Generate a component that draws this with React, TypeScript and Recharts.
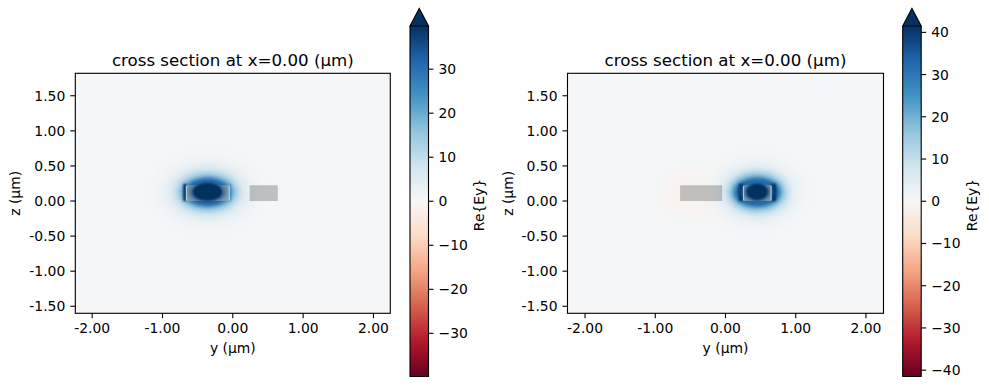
import React from "react"
import { ScatterChart, Scatter, XAxis, YAxis, ReferenceArea } from "recharts"

// axis ticks / ranges (µm)
const yTicks = [-2, -1, 0, 1, 2]
const zTicks = [-1.5, -1, -0.5, 0, 0.5, 1, 1.5]
const leftDomainY = [-2.24, 2.24]
const rightDomainY = [-2.25, 2.25]
const domainZ = [-1.6, 1.82]

// colorbars
const leftCbarTicks = [-30, -20, -10, 0, 10, 20, 30]
const rightCbarTicks = [-40, -30, -20, -10, 0, 10, 20, 30, 40]
const leftVmax = 39.8
const rightVmax = 41.5

// Re{Ey} iso-levels of the mode and their half extents (µm)
const modeLevels = [1.5, 4, 9, 16, 26, 36]
const leftHalfY = [0.8, 0.62, 0.5, 0.42, 0.35, 0.29]
const leftHalfZ = [0.55, 0.42, 0.33, 0.27, 0.21, 0.17]
const rightHalfY = [0.72, 0.56, 0.47, 0.41, 0.35, 0.3]
const rightHalfZ = [0.55, 0.42, 0.33, 0.28, 0.22, 0.18]
const leftCenter = { y: -0.36, z: 0.125 }
const rightCenter = { y: 0.45, z: 0.125 }

// saturated core inside the guide: [value, half y, half z]
const leftCore = [60, 0.21, 0.13]
const rightCore = [60, 0.155, 0.12]
const coreZ = 0.13
const guideFieldValue = 14

// waveguides (y ranges, µm) and their height in z
const leftGuides = [[-0.66, -0.05], [0.24, 0.64]]
const rightGuides = [[-0.647, -0.047], [0.257, 0.65]]
const guideZ = [0, 0.225]

// strong field just outside the side walls of the guiding waveguide
const leftBands = [{ y1: -0.705, y2: -0.655, v: 40 }, { y1: -0.055, y2: -0.025, v: 24 }]
const rightBands = [{ y1: 0.19, y2: 0.257, v: 45 }, { y1: 0.65, y2: 0.72, v: 45 }]

// faint negative lobe around the other guide (right plot)
const rightLobe = { y: -0.45, z: 0.11, hy: 0.45, hz: 0.32, v: -1.3 }

const rdbuStops = ["#67001f", "#b2182b", "#d6604d", "#f4a582", "#fddbc7", "#f7f7f7", "#d1e5f0", "#92c5de", "#4393c3", "#2166ac", "#053061"]
const blurSizes = [7, 5.5, 4, 3, 2.5, 2]

const FONT = "DejaVu Sans, sans-serif"
const tickStyle = { fill: "#000", fontSize: 13.9, fontFamily: FONT }

function hexRgb(h: string) {
  const n = parseInt(h.slice(1), 16)
  return [(n >> 16) & 255, (n >> 8) & 255, n & 255]
}

function rdbu(v: number, vmax: number) {
  const t = Math.max(0, Math.min(1, (v / vmax + 1) / 2)) * (rdbuStops.length - 1)
  const i = Math.min(Math.floor(t), rdbuStops.length - 2)
  const f = t - i
  const a = hexRgb(rdbuStops[i])
  const b = hexRgb(rdbuStops[i + 1])
  const c = a.map((x, k) => Math.round(x + (b[k] - x) * f))
  return `rgb(${c[0]},${c[1]},${c[2]})`
}

function norm(p: any) {
  const w = Math.abs(p.width)
  const h = Math.abs(p.height)
  return { x: Math.min(p.x, p.x + p.width), y: Math.min(p.y, p.y + p.height), w, h }
}

const ellipse = (fill: string, filter?: string) => (p: any) => {
  const r = norm(p)
  return (
    <ellipse cx={r.x + r.w / 2} cy={r.y + r.h / 2} rx={r.w / 2} ry={r.h / 2} fill={fill}
      filter={filter ? `url(#${filter})` : undefined} />
  )
}

const box = (fill: string, opacity = 1, filter?: string) => (p: any) => {
  const r = norm(p)
  return <rect x={r.x} y={r.y} width={r.w} height={r.h} fill={fill} fillOpacity={opacity}
    filter={filter ? `url(#${filter})` : undefined} />
}

const frame = (p: any) => {
  const r = norm(p)
  return <rect x={r.x} y={r.y} width={r.w} height={r.h} fill="none" stroke="#000" strokeWidth={1.1} />
}

const fmt2 = (v: number) => v.toFixed(2)
const fmtMinus = (v: number) => (v < 0 ? "\u2212" + Math.abs(v) : String(v))

function FieldPanel(props: any) {
  const { domainY, vmax, center, halfY, halfZ, core, guides, modeGuide, bands, lobe, margin } = props
  const g = guides[modeGuide]
  return (
    <ScatterChart width={400} height={389} margin={margin}>
      <XAxis type="number" dataKey="y" domain={domainY} ticks={yTicks} allowDataOverflow height={40}
        tickFormatter={fmt2} axisLine={false} tickSize={5} tickMargin={5}
        tickLine={{ stroke: "#000", strokeWidth: 1.1 }} tick={tickStyle} />
      <YAxis type="number" dataKey="z" domain={domainZ} ticks={zTicks} allowDataOverflow width={60}
        tickFormatter={fmt2} axisLine={false} tickSize={5} tickMargin={5}
        tickLine={{ stroke: "#000", strokeWidth: 1.1 }} tick={tickStyle} />
      <ReferenceArea shape={box("#f5f6f7")} />
      {lobe && (
        <ReferenceArea x1={lobe.y - lobe.hy} x2={lobe.y + lobe.hy} y1={lobe.z - lobe.hz} y2={lobe.z + lobe.hz}
          shape={ellipse(rdbu(lobe.v, vmax), "blur0")} />
      )}
      {modeLevels.map((v, i) => (
        <ReferenceArea key={`lvl-${i}`} x1={center.y - halfY[i]} x2={center.y + halfY[i]}
          y1={center.z - halfZ[i]} y2={center.z + halfZ[i]} shape={ellipse(rdbu(v, vmax), `blur${i}`)} />
      ))}
      {bands.map((b: any, i: number) => (
        <ReferenceArea key={`band-${i}`} x1={b.y1} x2={b.y2} y1={guideZ[0]} y2={guideZ[1] + 0.02}
          shape={box(rdbu(b.v, vmax), 1, "blurBand")} />
      ))}
      {/* inside the guiding waveguide */}
      <ReferenceArea x1={g[0]} x2={g[1]} y1={guideZ[0]} y2={guideZ[1]} shape={box(rdbu(guideFieldValue, vmax))} />
      <ReferenceArea x1={center.y - core[1] - 0.06} x2={center.y + core[1] + 0.06} y1={coreZ - core[2] - 0.03}
        y2={coreZ + core[2] + 0.03} shape={ellipse(rdbu(30, vmax), "blurRing")} />
      {guides.map((w: number[], i: number) => (
        <ReferenceArea key={`wg-${i}`} x1={w[0]} x2={w[1]} y1={guideZ[0]} y2={guideZ[1]} shape={box("#5c5c5c", 0.35)} />
      ))}
      <ReferenceArea x1={center.y - core[1]} x2={center.y + core[1]} y1={coreZ - core[2]} y2={coreZ + core[2]}
        shape={ellipse(rdbu(core[0], vmax), "blurCore")} />
      {g.map((wall: number, i: number) => (
        <ReferenceArea key={`wall-${i}`} x1={wall - 0.008} x2={wall + 0.008} y1={guideZ[0] + 0.01} y2={guideZ[1] - 0.01}
          shape={box("#dfe2e4", 0.75)} />
      ))}
      <ReferenceArea shape={frame} />
      <Scatter data={[center]} shape={() => <g />} isAnimationActive={false} />
    </ScatterChart>
  )
}

function Colorbar(props: any) {
  const { vmax, ticks, margin } = props
  const top = vmax * 1.1
  const bar = (p: any) => {
    const r = norm(p)
    return (
      <g>
        <rect x={r.x} y={r.y} width={r.w} height={r.h} fill="url(#rdbuBar)" />
        <path d={`M${r.x},${r.y} L${r.x},${r.y + r.h} L${r.x + r.w},${r.y + r.h} L${r.x + r.w},${r.y}`}
          fill="none" stroke="#000" strokeWidth={1.1} />
      </g>
    )
  }
  const arrow = (p: any) => {
    const r = norm(p)
    return (
      <polygon points={`${r.x},${r.y + r.h} ${r.x + r.w / 2},${r.y} ${r.x + r.w},${r.y + r.h}`}
        fill="#053061" stroke="#000" strokeWidth={1.1} strokeLinejoin="miter" />
    )
  }
  return (
    <ScatterChart width={90} height={389} margin={margin}>
      <XAxis type="number" dataKey="a" domain={[0, 1]} hide />
      <YAxis type="number" dataKey="v" orientation="right" domain={[-vmax, top]} ticks={ticks} allowDataOverflow
        width={50} axisLine={false} tickSize={5} tickMargin={5} tickFormatter={fmtMinus}
        tickLine={{ stroke: "#000", strokeWidth: 1.1 }} tick={tickStyle} />
      <ReferenceArea y1={-vmax} y2={vmax} shape={bar} />
      <ReferenceArea y1={vmax} y2={top} shape={arrow} />
      <Scatter data={[{ a: 0.5, v: 0 }]} shape={() => <g />} isAnimationActive={false} />
    </ScatterChart>
  )
}

const title = "cross section at x=0.00 (\u03bcm)"

export default function App() {
  return (
    <div style={{ position: "absolute", left: 0, top: 0, width: 989, height: 389, overflow: "hidden", background: "#fff" }}>
      <svg width={0} height={0} style={{ position: "absolute" }}>
        <defs>
          {blurSizes.map((s, i) => (
            <filter key={i} id={`blur${i}`} x="-60%" y="-60%" width="220%" height="220%">
              <feGaussianBlur stdDeviation={s} />
            </filter>
          ))}
          <filter id="blurRing" x="-40%" y="-40%" width="180%" height="180%">
            <feGaussianBlur stdDeviation={2.5} />
          </filter>
          <filter id="blurCore" x="-40%" y="-40%" width="180%" height="180%">
            <feGaussianBlur stdDeviation={1.1} />
          </filter>
          <filter id="blurBand" x="-100%" y="-40%" width="300%" height="180%">
            <feGaussianBlur stdDeviation={1} />
          </filter>
          <linearGradient id="rdbuBar" x1="0" y1="1" x2="0" y2="0">
            {rdbuStops.map((c, i) => (
              <stop key={i} offset={i / (rdbuStops.length - 1)} stopColor={c} />
            ))}
          </linearGradient>
        </defs>
      </svg>

      <div style={{ position: "absolute", left: 0, top: 0 }}>
        <FieldPanel domainY={leftDomainY} vmax={leftVmax} center={leftCenter} halfY={leftHalfY} halfZ={leftHalfZ}
          core={leftCore} guides={leftGuides} modeGuide={0} bands={leftBands}
          margin={{ top: 73.3, bottom: 35.7, left: 15.3, right: 9.7 }} />
      </div>
      <div style={{ position: "absolute", left: 400, top: 0 }}>
        <Colorbar vmax={leftVmax} ticks={leftCbarTicks} margin={{ top: 8.5, bottom: 12.5, left: 10, right: 11.5 }} />
      </div>
      <div style={{ position: "absolute", left: 490, top: 0 }}>
        <FieldPanel domainY={rightDomainY} vmax={rightVmax} center={rightCenter} halfY={rightHalfY} halfZ={rightHalfZ}
          core={rightCore} guides={rightGuides} modeGuide={1} bands={rightBands} lobe={rightLobe}
          margin={{ top: 73.3, bottom: 35.7, left: 17.5, right: 6.5 }} />
      </div>
      <div style={{ position: "absolute", left: 892, top: 0 }}>
        <Colorbar vmax={rightVmax} ticks={rightCbarTicks} margin={{ top: 8.5, bottom: 12.5, left: 10.7, right: 10.8 }} />
      </div>

      <svg width={989} height={389} style={{ position: "absolute", left: 0, top: 0, pointerEvents: "none" }}
        fontFamily={FONT} fill="#000">
        <text x={232.8} y={65.5} fontSize={16.67} textAnchor="middle">{title}</text>
        <text x={725.5} y={65.5} fontSize={16.67} textAnchor="middle">{title}</text>
        <text x={232.8} y={353} fontSize={13.9} textAnchor="middle">y (μm)</text>
        <text x={725.5} y={353} fontSize={13.9} textAnchor="middle">y (μm)</text>
        <text x={20.5} y={193.3} fontSize={13.9} textAnchor="middle" transform="rotate(-90 20.5 193.3)">z (μm)</text>
        <text x={512.7} y={193.3} fontSize={13.9} textAnchor="middle" transform="rotate(-90 512.7 193.3)">z (μm)</text>
        <text x={483.5} y={205} fontSize={13.9} textAnchor="middle" transform="rotate(-90 483.5 205)">{"Re{Ey}"}</text>
        <text x={976.5} y={205} fontSize={13.9} textAnchor="middle" transform="rotate(-90 976.5 205)">{"Re{Ey}"}</text>
      </svg>
    </div>
  )
}
